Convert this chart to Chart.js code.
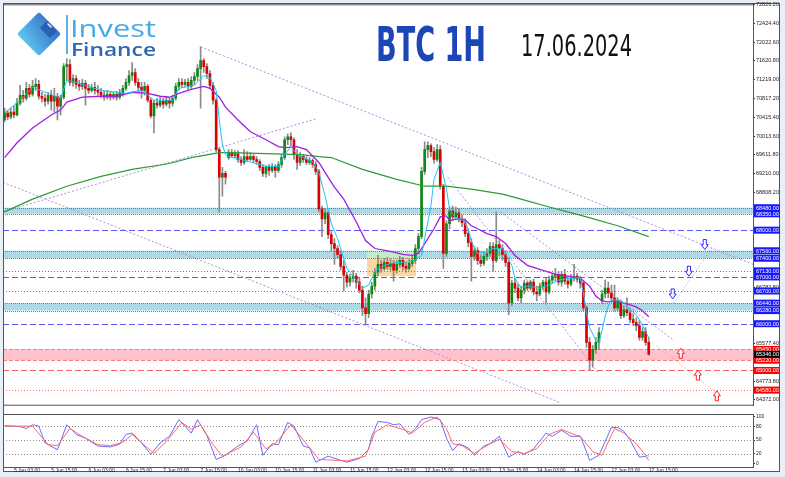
<!DOCTYPE html>
<html>
<head>
<meta charset="utf-8">
<script src="https://cdn.jsdelivr.net/npm/chart.js@4.4.1/dist/chart.umd.min.js"></script>
<style>
  html, body { margin:0; padding:0; }
  body { width:785px; height:477px; overflow:hidden; background:#e8eff6; position:relative; font-family:"Liberation Sans", Arial, sans-serif; }
  #frame { position:absolute; left:3px; top:3px; width:777px; height:469px; background:#fff; border:1px solid #555; box-sizing:border-box; }
  canvas { position:absolute; left:0; }
  #cMain { top:0; }
  #cStoch { top:410px; }
  .txt { position:absolute; white-space:nowrap; transform-origin:0 0; line-height:1; display:inline-block; }
</style>
</head>
<body>
<div id="frame"></div>
<canvas id="cMain" width="785" height="410"></canvas>
<canvas id="cStoch" width="785" height="67"></canvas>

<svg style="position:absolute;left:14px;top:12px" width="52" height="46">
  <defs>
    <linearGradient id="lg" gradientUnits="userSpaceOnUse" x1="6" y1="34" x2="44" y2="10">
      <stop offset="0" stop-color="#66cff6"/>
      <stop offset="1" stop-color="#2b68c0"/>
    </linearGradient>
  </defs>
  <path d="M25 4 L43 22 L25 40 L7 22 Z" fill="url(#lg)" stroke="url(#lg)" stroke-width="6" stroke-linejoin="round"/>
  <path d="M33 11 L41 19 L36 24 L28 16 Z" fill="#2a5fb2" stroke="#2a5fb2" stroke-width="3" stroke-linejoin="round"/>
  <path d="M34 12 L37 15" stroke="#ffffff" stroke-width="1.4" stroke-linecap="round"/>
</svg>
<div style="position:absolute;left:66px;top:15px;width:1.5px;height:39px;background:#5ab3e6"></div>
<div class="txt" id="tInvest" style="left:70px;top:11.5px;font:400 23px 'Open Sans',sans-serif;color:#45aae6;">Invest</div>
<div class="txt" id="tFinance" style="left:71px;top:36.7px;font:600 18px 'Open Sans',sans-serif;color:#2d66b3;">Finance</div>
<div class="txt" id="tBTC" style="left:376px;top:16px;font:bold 48px 'Liberation Sans Narrow','DejaVu Sans Condensed',sans-serif;color:#1c46b8;">BTC 1H</div>
<div class="txt" id="tDate" style="left:521px;top:28px;font:30px 'Liberation Sans Narrow','DejaVu Sans Condensed',sans-serif;color:#111;">17.06.2024</div>

<script>
// ---------- categories / tick labels ----------
const days = ['5 Jun','6 Jun','7 Jun','10 Jun','11 Jun','12 Jun','13 Jun','14 Jun','17 Jun','18 Jun','19 Jun'];
const NCAT = 241;
const categories = [];
for (let i = 0; i < NCAT; i++) { const h = i % 24; categories.push(days[Math.floor(i / 24)] + ' ' + (h < 10 ? '0' : '') + h + ':00'); }
const tickLabels = ['5 Jun 03:00','5 Jun 15:00','6 Jun 03:00','6 Jun 15:00','7 Jun 03:00','7 Jun 15:00',
  '10 Jun 03:00','10 Jun 15:00','11 Jun 03:00','11 Jun 15:00','12 Jun 03:00','12 Jun 15:00',
  '13 Jun 03:00','13 Jun 15:00','14 Jun 03:00','14 Jun 15:00','17 Jun 03:00','17 Jun 15:00'];
const priceTicks = [72826.2,72424.4,72022.6,71620.8,71219.0,70817.2,70415.4,70013.6,69611.8,69210.0,68808.2,66782.8,65577.4,64773.8,64372.0];
const stochTicks = [100,80,50,20,0];

// ---------- candles (hourly OHLC) ----------
const opens = [
70357,70505,70420,70526,70462,70716,70885,70822,71033,70906,
71075,71118,70864,70822,70758,70885,70758,70864,70653,70843,
71498,71540,71160,71244,71118,71075,71139,71033,70991,71054,
70991,70949,70885,70843,70906,70843,70906,70843,70927,71033,
71160,71308,71371,71160,71054,70991,71075,70779,70441,70716,
70674,70758,70695,70779,70716,70822,71075,71160,71118,71160,
71075,71202,71287,71456,71625,71498,71350,71097,70779,69722,
69131,69215,69553,69659,69595,69638,69511,69448,69574,69511,
69574,69511,69469,69342,69215,69342,69278,69363,69278,69405,
69553,69934,69997,69934,69617,69448,69574,69511,69448,69490,
69405,69257,68454,68242,68369,67904,67714,67608,67481,67227,
67037,66889,66974,67016,66889,66720,66340,66213,66636,66805,
67101,67270,67185,67312,67227,67291,67143,67270,67354,67227,
67185,67291,67354,67608,67862,69257,69722,69807,69680,69511,
69722,68940,67502,68137,68412,68285,68369,68242,68158,67925,
67735,67439,67566,67354,67291,67439,67502,67650,67354,67693,
67608,67481,67312,66445,66868,66762,66551,66720,66868,66762,
66889,66678,66636,66805,66889,66678,66931,67016,67058,66889,
67058,66910,66847,66974,67016,66953,66868,66340,65600,65219,
65452,65600,66488,66636,66762,66657,66551,66340,66466,66170,
66297,66234,66086,66023,65959,65705,65832,65600];
const closes = [
70526,70420,70526,70462,70716,70885,70822,71033,70906,71075,
71118,70864,70822,70758,70885,70758,70864,70653,70843,71498,
71540,71160,71244,71118,71075,71139,71033,70991,71054,70991,
70949,70885,70843,70906,70843,70906,70843,70927,71033,71160,
71308,71371,71160,71054,70991,71075,70779,70441,70716,70674,
70758,70695,70779,70716,70822,71075,71160,71118,71160,71075,
71202,71287,71456,71625,71498,71350,71097,70779,69722,69131,
69215,69131,69659,69595,69638,69511,69448,69574,69511,69574,
69511,69469,69342,69215,69342,69278,69363,69278,69405,69553,
69934,69997,69934,69617,69448,69574,69511,69448,69490,69405,
69257,68454,68242,68369,67904,67714,67608,67481,67227,67037,
66889,66974,67016,66889,66720,66340,66213,66636,66805,67101,
67270,67185,67312,67227,67291,67143,67270,67354,67227,67185,
67291,67354,67608,67862,69257,69722,69807,69680,69511,69722,
68940,67502,68137,68412,68285,68369,68242,68158,67925,67735,
67439,67566,67354,67291,67439,67502,67650,67354,67693,67608,
67481,67312,66445,66868,66762,66551,66720,66868,66762,66889,
66678,66636,66805,66889,66678,66931,67016,67058,66889,67058,
66910,66847,66974,67016,66953,66868,66340,65600,65219,65452,
65600,65811,66636,66762,66657,66551,66340,66466,66170,66297,
66234,66086,66023,65959,65705,65832,65600,65346];
const highs = [
70610,70568,70610,70653,70822,71097,70991,71160,71118,71202,
71244,71202,70949,70906,70949,70991,71033,70927,70885,71562,
71667,71646,71329,71308,71202,71223,71202,71118,71118,71160,
71097,71033,70970,70991,70970,70949,70970,71012,71097,71244,
71414,71583,71456,71244,71160,71160,71118,70822,70779,70822,
70843,70822,70864,70843,70885,71139,71244,71244,71223,71244,
71287,71371,71540,71921,71667,71562,71414,71160,70822,69765,
69342,69257,69722,69722,69701,69701,69574,69722,69680,69659,
69617,69574,69511,69405,69384,69405,69426,69405,69469,69617,
69997,70061,70082,69976,69722,69659,69617,69574,69553,69532,
69469,69300,68517,68454,68412,67968,67820,67671,67566,67354,
67101,67058,67143,67079,66974,66805,66551,66720,66889,67185,
67460,67354,67397,67418,67375,67354,67354,67439,67418,67312,
67375,67460,67693,67925,69342,69891,69891,69849,69765,69828,
69807,68983,68200,68496,68517,68496,68454,68327,68242,68031,
67820,67650,67629,67481,67523,67608,67735,67735,68391,67777,
67693,67566,67397,66931,66974,66847,66805,66931,66910,66931,
66953,66805,66868,66931,66974,67016,67079,67185,67122,67122,
67164,67016,67058,67270,67079,67016,66910,66382,65705,65536,
65705,65917,66720,66931,66889,66826,66826,66551,66509,66382,
66551,66318,66213,66128,66065,65917,65917,65705];
const lows = [
70314,70357,70378,70399,70441,70674,70737,70779,70843,70864,
70991,70801,70737,70653,70695,70568,70526,70357,70462,70801,
71202,71097,71075,71033,70991,71012,70674,70927,70949,70906,
70885,70822,70779,70801,70779,70801,70779,70801,70864,70991,
71097,71202,71097,70949,70822,70885,70737,70399,70082,70610,
70631,70610,70653,70610,70653,70779,70991,71054,71075,71012,
71033,71118,71202,70610,71371,71244,71033,70695,69680,68391,
68729,68983,69511,69553,69553,69448,69384,69405,69469,69490,
69448,69405,69278,69152,69131,69173,69236,69131,69236,69342,
69511,69828,69807,69511,69300,69384,69448,69405,69405,69342,
69194,68391,67862,68137,67820,67545,67270,67397,67143,66699,
66783,66805,66889,66762,66657,66170,65980,66128,66551,66720,
67016,67101,67143,67164,67143,66910,67079,67206,67143,67101,
67143,67227,67291,67502,67820,69194,69553,69574,69426,69469,
68877,67185,67439,68031,68200,68221,68179,68073,67862,67650,
66910,67354,67270,67227,67249,67354,67439,67122,67312,67460,
67354,67227,66192,66382,66657,66488,66445,66636,66699,66720,
66614,66488,66593,66720,66445,66636,66868,66910,66826,66805,
66847,66762,66805,66910,66889,66762,66276,65494,65008,65071,
65367,65452,66424,66551,66551,66466,66276,66276,66107,66128,
66170,66023,65959,65853,65642,65642,65536,65325];

// ---------- moving averages (read at sampled bars) ----------
const maFastBars = [0,5,9,14,18,20,23,31,39,44,48,54,56,61,64,66,68,69,70,71,72,76,82,84,88,90,92,94,96,99,101,103,105,107,110,113,115,117,118,120,124,131,134,135,137,138,140,142,143,145,147,149,150,152,155,157,160,163,164,166,168,172,175,178,182,185,186,187,188,190,191,192,193,194,195,197,199,201,203,205,207];
const maFastVals = [70505,70779,71054,70927,70822,71202,71160,70991,70927,70991,70779,70779,71033,71097,71308,71265,70991,70357,69828,69617,69574,69511,69405,69363,69363,69617,69786,69617,69553,69469,69236,68729,68137,67820,67185,66931,66762,66826,66974,67185,67291,67333,67460,67820,68517,69088,69448,68877,68454,68242,68242,68031,67756,67502,67545,67608,67608,67249,66974,66762,66805,66762,66826,66931,66974,66974,66657,66234,65917,65642,65600,65853,66170,66382,66509,66509,66445,66297,66192,65959,65705];
const maMidBars = [0,4,9,15,18,20,25,31,36,41,46,50,53,56,60,64,66,69,71,75,79,84,88,90,94,97,101,104,106,109,113,116,119,124,128,131,133,135,138,140,142,143,145,148,150,152,155,158,161,164,168,173,177,181,185,188,190,192,194,197,200,203,205,207];
const maMidVals = [69553,69870,70187,70462,70568,70737,70843,70864,70864,70949,70927,70864,70843,70927,71012,71075,71033,70843,70631,70357,70103,69934,69786,69765,69786,69722,69448,69131,68919,68665,68179,67777,67608,67545,67481,67460,67502,67714,68031,68285,68306,68200,68242,68221,68094,68031,67925,67862,67714,67460,67249,67143,67058,67016,66974,66805,66593,66488,66466,66488,66424,66361,66276,66149];
const maSlowBars = [0,9,20,31,41,53,60,69,73,84,95,101,105,115,126,135,142,150,160,166,175,187,197,207];
const maSlowVals = [68391,68665,68940,69152,69300,69426,69553,69659,69659,69638,69617,69574,69553,69300,69088,68940,68940,68877,68771,68665,68496,68285,68094,67862];

// ---------- stochastic ----------
const stochKBars = [0,5,7,9,11,13,17,20,23,26,30,34,37,39,41,44,47,50,53,56,60,62,65,68,71,75,78,81,83,86,88,91,93,96,98,100,104,110,114,117,118,120,123,125,127,130,132,134,137,140,142,144,146,149,151,154,156,159,162,165,167,170,174,176,179,182,185,186,188,191,195,197,199,201,204,206,207];
const stochKVals = [81,79,75,83,80,44,29,83,62,54,37,35,41,62,65,44,19,44,58,94,65,94,60,8,17,37,48,83,17,42,40,88,80,37,33,2,15,2,10,30,58,90,88,83,85,62,75,94,100,94,54,27,42,33,17,37,42,58,13,25,19,31,65,58,71,58,58,42,6,17,77,77,69,50,13,15,6];
const stochDBars = [0,9,14,17,21,25,30,34,38,41,48,52,57,60,63,67,70,76,80,84,87,92,97,101,110,116,119,123,128,131,135,139,142,144,147,151,155,159,163,167,171,175,179,183,185,189,192,196,199,203,206,207];
const stochDVals = [80,80,40,38,75,58,40,38,45,62,21,47,88,73,83,40,15,35,67,31,42,83,42,8,5,15,67,83,73,65,88,100,75,42,38,21,38,52,25,21,31,62,73,62,58,25,17,75,65,42,17,15];

// ---------- horizontal levels & objects ----------
const blueBands = [[68480,68350],[67560,67400],[66440,66280]];
const blueDashed = [68000,67000,66000];
const blueDotted = [67130,66700];
const redBand = [65450,65220];
const redDashed = [65000];
const redDotted = [64580];
const rectBars = [116.5,132.2];
const rectPrices = [67545,67016];
const trendBars = [[63,240.5],[-0.5,178.7],[-0.5,99.9],[142.4,190.6],[159.4,214.7]];
const trendPrices = [[71921,67270],[69024,64310],[68391,70378],[69131,64966],[68391,65663]];
const projBlueBars = [215.1,227.6], projBluePrices = [66445,67650];
const projRedBars = [209.3,229.6], projRedPrices = [65536,64480];
const arrowDownBars = [225,219.9,214.7], arrowDownPrices = [67693,67122,66636];
const arrowUpBars = [217.3,222.8,228.9], arrowUpPrices = [65368,64902,64458];

function sparse(bars, vals) { const a = new Array(NCAT).fill(null); bars.forEach((b, i) => { a[b] = vals[i]; }); return a; }
const tickIdx = tickLabels.map(l => categories.indexOf(l));

function arrow(ctx, x, y, dir, color) {
  const w = 3.5, hw = 1.6, h = 5;
  ctx.beginPath();
  ctx.moveTo(x - hw, y - dir * h); ctx.lineTo(x + hw, y - dir * h); ctx.lineTo(x + hw, y);
  ctx.lineTo(x + w, y); ctx.lineTo(x, y + dir * h); ctx.lineTo(x - w, y); ctx.lineTo(x - hw, y);
  ctx.closePath();
  ctx.fillStyle = '#fff'; ctx.fill();
  ctx.setLineDash([]); ctx.strokeStyle = color; ctx.lineWidth = 1; ctx.stroke();
}

const mainDecor = {
  id: 'mainDecor',
  beforeDatasetsDraw(chart) {
    const { ctx, chartArea: a, scales: { x, y } } = chart;
    const X = b => x.getPixelForValue(b), Y = p => y.getPixelForValue(p);
    ctx.save();
    ctx.beginPath(); ctx.rect(a.left, a.top, a.right - a.left, a.bottom - a.top); ctx.clip();
    const hline = (p, color, dash) => {
      const yy = Math.round(Y(p)) + 0.5;
      ctx.strokeStyle = color; ctx.lineWidth = 1; ctx.setLineDash(dash);
      ctx.beginPath(); ctx.moveTo(a.left, yy); ctx.lineTo(a.right, yy); ctx.stroke();
    };
    blueBands.forEach(([t, b]) => {
      ctx.fillStyle = '#add8e6';
      ctx.fillRect(a.left, Y(t), a.right - a.left, Y(b) - Y(t));
    });
    ctx.fillStyle = '#ffc2cc';
    ctx.fillRect(a.left, Y(redBand[0]), a.right - a.left, Y(redBand[1]) - Y(redBand[0]));
    // orange rectangle
    ctx.fillStyle = '#fad7a4';
    ctx.fillRect(X(rectBars[0]), Y(rectPrices[0]), X(rectBars[1]) - X(rectBars[0]), Y(rectPrices[1]) - Y(rectPrices[0]));
    ctx.fillStyle = '#bfeccd';
    const ot = Math.min(rectPrices[0], blueBands[1][0]), ob = Math.max(rectPrices[1], blueBands[1][1]);
    ctx.fillRect(X(rectBars[0]), Y(ot), X(rectBars[1]) - X(rectBars[0]), Y(ob) - Y(ot));
    blueBands.forEach(([t, b]) => { hline(t, '#6a6aff', [1, 1]); hline(b, '#6a6aff', [1, 1]); });
    blueDashed.forEach(p => hline(p, '#5a5af5', [6, 3]));
    blueDotted.forEach(p => hline(p, '#6a6aff', [1, 2]));
    hline(redBand[0], '#ff7a7a', [4, 2]); hline(redBand[1], '#ff7a7a', [4, 2]);
    redDashed.forEach(p => hline(p, '#ff6060', [6, 3]));
    redDotted.forEach(p => hline(p, '#ff7070', [1, 2]));
    // trend lines
    ctx.strokeStyle = '#ad8fdc'; ctx.lineWidth = 1; ctx.setLineDash([2, 2]);
    trendBars.forEach((tb, i) => {
      ctx.beginPath(); ctx.moveTo(X(tb[0]), Y(trendPrices[i][0])); ctx.lineTo(X(tb[1]), Y(trendPrices[i][1])); ctx.stroke();
    });
    ctx.restore();
  },
  afterDatasetsDraw(chart) {
    const { ctx, chartArea: a, scales: { x, y } } = chart;
    const X = b => x.getPixelForValue(b), Y = p => y.getPixelForValue(p);
    ctx.save();
    ctx.beginPath(); ctx.rect(a.left, a.top, a.right - a.left, a.bottom - a.top); ctx.clip();
    ctx.lineWidth = 1; ctx.setLineDash([1, 2]);
    ctx.strokeStyle = '#8c9cf0';
    ctx.beginPath(); ctx.moveTo(X(projBlueBars[0]), Y(projBluePrices[0])); ctx.lineTo(X(projBlueBars[1]), Y(projBluePrices[1])); ctx.stroke();
    ctx.strokeStyle = '#ff8a8a';
    ctx.beginPath(); ctx.moveTo(X(projRedBars[0]), Y(projRedPrices[0])); ctx.lineTo(X(projRedBars[1]), Y(projRedPrices[1])); ctx.stroke();
    arrowDownBars.forEach((b, i) => arrow(ctx, X(b), Y(arrowDownPrices[i]), 1, '#2b2bff'));
    arrowUpBars.forEach((b, i) => arrow(ctx, X(b), Y(arrowUpPrices[i]), -1, '#ff2020'));
    ctx.restore();
  },
  afterDraw(chart) {
    const { ctx, chartArea: a, scales: { y } } = chart;
    const Y = p => y.getPixelForValue(p);
    ctx.save();
    ctx.setLineDash([]);
    ctx.strokeStyle = '#555'; ctx.lineWidth = 1;
    ctx.strokeRect(a.left + 0.5, a.top + 0.5, a.right - a.left, a.bottom - a.top - 1);
    ctx.font = '5.5px "Liberation Sans", Arial, sans-serif';
    ctx.textBaseline = 'middle'; ctx.textAlign = 'left';
    const box = (p, color, label) => {
      const yy = Y(p);
      ctx.fillStyle = color; ctx.fillRect(a.right + 1, yy - 3.5, 26, 7);
      ctx.fillStyle = '#fff'; ctx.fillText(label, a.right + 3, yy + 0.3);
    };
    blueBands.forEach(([t, b]) => { box(t, '#1818ff', t.toFixed(2)); box(b, '#1818ff', b.toFixed(2)); });
    blueDashed.forEach(p => box(p, '#1818ff', p.toFixed(2)));
    blueDotted.forEach(p => box(p, '#1818ff', p.toFixed(2)));
    box(redBand[0], '#ff0000', redBand[0].toFixed(2));
    box(redBand[1], '#ff0000', redBand[1].toFixed(2));
    redDashed.forEach(p => box(p, '#ff0000', p.toFixed(2)));
    redDotted.forEach(p => box(p, '#ff0000', p.toFixed(2)));
    const last = closes[closes.length - 1];
    box(last, '#000', last.toFixed(2));
    ctx.restore();
  }
};

const stochDecor = {
  id: 'stochDecor',
  beforeDatasetsDraw(chart) {
    const { ctx, chartArea: a, scales: { y } } = chart;
    ctx.save();
    ctx.strokeStyle = '#8a8a8a'; ctx.lineWidth = 1; ctx.setLineDash([1, 2]);
    [80, 50, 20].forEach(v => {
      const yy = Math.round(y.getPixelForValue(v)) + 0.5;
      ctx.beginPath(); ctx.moveTo(a.left, yy); ctx.lineTo(a.right, yy); ctx.stroke();
    });
    ctx.restore();
  },
  afterDraw(chart) {
    const { ctx, chartArea: a } = chart;
    ctx.save(); ctx.setLineDash([]);
    ctx.strokeStyle = '#555'; ctx.lineWidth = 1;
    ctx.strokeRect(a.left + 0.5, a.top + 0.5, a.right - a.left, a.bottom - a.top);
    ctx.restore();
  }
};

const lineBase = { type: 'line', pointRadius: 0, spanGaps: true, tension: 0, fill: false };

new Chart(document.getElementById('cMain'), {
  type: 'bar',
  data: {
    labels: categories,
    datasets: [
      { type: 'bar', data: lows.map((l, i) => [l, highs[i]]), backgroundColor: '#8a8a8a', barThickness: 1, grouped: false, order: 5 },
      { type: 'bar', data: opens.map((o, i) => [o, closes[i]]), backgroundColor: opens.map((o, i) => closes[i] >= o ? '#0b8a12' : '#dc0000'), barThickness: 2, grouped: false, order: 4, borderWidth: 0 },
      Object.assign({}, lineBase, { data: sparse(maSlowBars, maSlowVals), borderColor: '#2f9a35', borderWidth: 1.2, order: 3 }),
      Object.assign({}, lineBase, { data: sparse(maMidBars, maMidVals), borderColor: '#a21fe0', borderWidth: 1.3, order: 2 }),
      Object.assign({}, lineBase, { data: sparse(maFastBars, maFastVals), borderColor: '#19c3f5', borderWidth: 1, order: 1 })
    ]
  },
  options: {
    responsive: false, animation: false, events: [],
    layout: { padding: { left: 3, top: 3, bottom: 1, right: 0 } },
    plugins: { legend: { display: false }, tooltip: { enabled: false } },
    scales: {
      x: { display: false, offset: true, grid: { display: false } },
      y: {
        position: 'right', min: 64247, max: 72830,
        afterBuildTicks: s => { s.ticks = priceTicks.map(v => ({ value: v })); },
        afterFit: s => { s.width = 32; },
        ticks: { font: { size: 5.5, family: '"Liberation Sans", Arial, sans-serif' }, color: '#222', padding: 1, autoSkip: false, callback: v => Number(v).toFixed(2) },
        grid: { drawOnChartArea: false, drawTicks: true, tickLength: 2, color: '#333' },
        border: { display: true, color: '#333' }
      }
    }
  },
  plugins: [mainDecor]
});

new Chart(document.getElementById('cStoch'), {
  type: 'line',
  data: {
    labels: categories,
    datasets: [
      Object.assign({}, lineBase, { data: sparse(stochDBars, stochDVals), borderColor: '#ff6a6a', borderWidth: 1 }),
      Object.assign({}, lineBase, { data: sparse(stochKBars, stochKVals), borderColor: '#6a6aff', borderWidth: 1 })
    ]
  },
  options: {
    responsive: false, animation: false, events: [],
    layout: { padding: { left: 3, top: 2, bottom: 0, right: 0 } },
    plugins: { legend: { display: false }, tooltip: { enabled: false } },
    scales: {
      x: {
        offset: true,
        afterBuildTicks: s => { s.ticks = tickIdx.map(v => ({ value: v })); },
        afterFit: s => { s.height = 10; },
        ticks: { autoSkip: false, maxRotation: 0, minRotation: 0, align: 'start', font: { size: 5, family: '"Liberation Sans", Arial, sans-serif' }, color: '#222', padding: 0 },
        grid: { drawOnChartArea: false, drawTicks: true, tickLength: 1, color: '#333' },
        border: { display: false }
      },
      y: {
        position: 'right', min: -8.3, max: 106.25,
        afterBuildTicks: s => { s.ticks = stochTicks.map(v => ({ value: v })); },
        afterFit: s => { s.width = 32; },
        ticks: { font: { size: 5, family: '"Liberation Sans", Arial, sans-serif' }, color: '#222', padding: 1, autoSkip: false },
        grid: { drawOnChartArea: false, drawTicks: true, tickLength: 2, color: '#333' },
        border: { display: true, color: '#333' }
      }
    }
  },
  plugins: [stochDecor]
});

function fit(id, w) {
  const el = document.getElementById(id);
  const ow = el.getBoundingClientRect().width;
  if (ow > 0) el.style.transform = 'scaleX(' + (w / ow) + ')';
}
fit('tBTC', 110); fit('tDate', 111); fit('tInvest', 86); fit('tFinance', 85);
</script>
</body>
</html>
